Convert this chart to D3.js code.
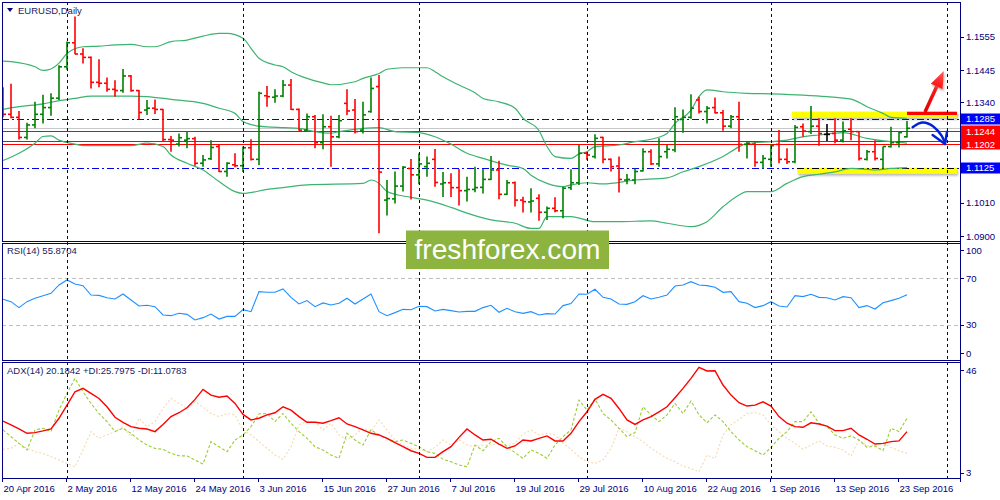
<!DOCTYPE html>
<html><head><meta charset="utf-8">
<script src="https://cdn.jsdelivr.net/npm/d3@7"></script>
<style>body{margin:0;background:#fff}svg{display:block}text{font-family:"Liberation Sans",Arial,sans-serif}</style>
</head><body><svg id="c" width="1000" height="500"></svg>
<script>
// ---------- DATA ----------
const dateLabels = ["20 Apr 2016","2 May 2016","12 May 2016","24 May 2016","3 Jun 2016","15 Jun 2016","27 Jun 2016","7 Jul 2016","19 Jul 2016","29 Jul 2016","10 Aug 2016","22 Aug 2016","1 Sep 2016","13 Sep 2016","23 Sep 2016"];
const dateLabelBars = [0,8,16,24,32,40,48,56,64,72,80,88,96,104,112];
const monthStartBars = [8,30,52,73,96,118];
const priceTicks = [1.1555,1.1445,1.1340,1.1010,1.0900];
const rsiTicks = [100,70,30,0];
const rsiLevels = [70,30];
const adxTicks = [46,3];

const opens  = [1.1303,1.1300,1.1290,1.1224,1.1265,1.1300,1.1322,1.1353,1.1456,1.1535,1.1498,1.1487,1.1405,1.1402,1.1382,1.1378,1.1426,1.1378,1.1314,1.1320,1.1316,1.1217,1.1202,1.1215,1.1220,1.1139,1.1154,1.1194,1.1112,1.1134,1.1131,1.1190,1.1152,1.1361,1.1356,1.1360,1.1396,1.1316,1.1248,1.1292,1.1207,1.1259,1.1226,1.1336,1.1314,1.1248,1.1309,1.1391,1.1018,1.1022,1.1064,1.1122,1.1101,1.1128,1.1152,1.1071,1.1075,1.1059,1.1049,1.1053,1.1060,1.1086,1.1117,1.1037,1.1075,1.1018,1.1012,1.1024,1.0978,1.0991,1.0983,1.1059,1.1075,1.1172,1.1161,1.1224,1.1152,1.1130,1.1084,1.1084,1.1114,1.1177,1.1137,1.1177,1.1183,1.1283,1.1290,1.1347,1.1309,1.1322,1.1305,1.1261,1.1292,1.1201,1.1202,1.1142,1.1152,1.1201,1.1152,1.1144,1.1259,1.1243,1.1261,1.1234,1.1237,1.1215,1.1251,1.1243,1.1152,1.1177,1.1152,1.1194,1.1207,1.1226];
const highs  = [1.1389,1.1400,1.1311,1.1272,1.1341,1.1364,1.1369,1.1461,1.1539,1.1621,1.1517,1.1490,1.1481,1.1421,1.1412,1.1449,1.1429,1.1380,1.1347,1.1349,1.1317,1.1229,1.1237,1.1243,1.1226,1.1166,1.1215,1.1199,1.1142,1.1172,1.1194,1.1218,1.1374,1.1393,1.1382,1.1413,1.1416,1.1319,1.1303,1.1298,1.1300,1.1295,1.1298,1.1382,1.1350,1.1341,1.1421,1.1429,1.1084,1.1112,1.1130,1.1153,1.1172,1.1161,1.1186,1.1110,1.1106,1.1120,1.1095,1.1128,1.1120,1.1163,1.1147,1.1084,1.1079,1.1029,1.1057,1.1037,1.0997,1.1027,1.1062,1.1119,1.1199,1.1177,1.1234,1.1226,1.1155,1.1161,1.1104,1.1122,1.1188,1.1185,1.1221,1.1199,1.1323,1.1316,1.1366,1.1358,1.1327,1.1355,1.1314,1.1298,1.1341,1.1210,1.1207,1.1166,1.1201,1.1248,1.1188,1.1265,1.1270,1.1327,1.1287,1.1268,1.1287,1.1276,1.1287,1.1245,1.1183,1.1215,1.1194,1.1259,1.1243,1.1278];
const lows   = [1.1290,1.1287,1.1217,1.1217,1.1254,1.1270,1.1295,1.1347,1.1446,1.1497,1.1467,1.1385,1.1389,1.1374,1.1358,1.1371,1.1374,1.1283,1.1298,1.1301,1.1210,1.1177,1.1194,1.1188,1.1131,1.1128,1.1150,1.1110,1.1095,1.1126,1.1110,1.1148,1.1133,1.1325,1.1338,1.1356,1.1314,1.1246,1.1246,1.1188,1.1185,1.1128,1.1221,1.1298,1.1237,1.1237,1.1305,1.0909,1.0967,1.1007,1.1046,1.1020,1.1070,1.1095,1.1062,1.1028,1.1028,1.1000,1.1013,1.1044,1.1040,1.1084,1.1021,1.1035,1.0997,1.0977,1.0977,1.0950,1.0953,1.0978,1.0958,1.1051,1.1068,1.1150,1.1155,1.1139,1.1112,1.1043,1.1070,1.1070,1.1112,1.1133,1.1128,1.1155,1.1175,1.1239,1.1285,1.1303,1.1270,1.1303,1.1246,1.1254,1.1177,1.1155,1.1128,1.1122,1.1128,1.1139,1.1137,1.1139,1.1226,1.1235,1.1197,1.1212,1.1205,1.1207,1.1215,1.1148,1.1148,1.1148,1.1122,1.1191,1.1191,1.1224];
const closes = [1.1300,1.1290,1.1224,1.1265,1.1300,1.1322,1.1353,1.1456,1.1535,1.1498,1.1487,1.1405,1.1402,1.1382,1.1378,1.1426,1.1378,1.1306,1.1320,1.1316,1.1217,1.1215,1.1223,1.1220,1.1139,1.1150,1.1191,1.1112,1.1139,1.1131,1.1190,1.1152,1.1369,1.1358,1.1360,1.1396,1.1316,1.1248,1.1292,1.1207,1.1259,1.1226,1.1279,1.1311,1.1243,1.1298,1.1385,1.1110,1.1023,1.1064,1.1126,1.1101,1.1137,1.1139,1.1076,1.1075,1.1059,1.1049,1.1053,1.1059,1.1086,1.1117,1.1037,1.1075,1.1018,1.1013,1.1015,1.0978,1.0991,1.0983,1.1057,1.1075,1.1172,1.1166,1.1221,1.1152,1.1128,1.1086,1.1086,1.1112,1.1177,1.1137,1.1161,1.1185,1.1292,1.1290,1.1320,1.1309,1.1320,1.1305,1.1261,1.1292,1.1201,1.1205,1.1142,1.1155,1.1197,1.1152,1.1144,1.1257,1.1245,1.1261,1.1237,1.1234,1.1215,1.1246,1.1243,1.1155,1.1177,1.1155,1.1194,1.1207,1.1240,1.1254];

// Bollinger bands: [bar, price]
const bbUpper = [[0,1.1475],[1,1.1473],[4,1.1456],[5,1.1444],[6,1.1449],[7,1.1468],[8,1.1500],[10,1.1522],[12,1.1524],[14,1.1528],[16,1.1530],[18,1.1522],[19,1.1522],[21,1.1539],[23,1.1544],[25,1.1557],[27,1.1566],[28,1.1566],[30,1.1550],[31,1.1517],[32,1.1484],[34,1.1462],[35,1.1456],[36,1.1440],[38,1.1418],[40,1.1403],[41,1.1397],[44,1.1407],[45,1.1418],[47,1.1434],[48,1.1448],[50,1.1453],[53,1.1453],[54,1.1440],[55,1.1423],[57,1.1396],[59,1.1371],[60,1.1352],[62,1.1341],[64,1.1320],[65,1.1287],[67,1.1246],[68,1.1194],[69,1.1161],[71,1.1155],[72,1.1170],[73,1.1177],[74,1.1194],[77,1.1199],[79,1.1210],[81,1.1218],[83,1.1237],[84,1.1270],[86,1.1314],[87,1.1358],[88,1.1380],[90,1.1374],[93,1.1369],[96,1.1367],[100,1.1363],[103,1.1358],[106,1.1350],[108,1.1325],[110,1.1303],[111,1.1290],[113,1.1287]];
const bbMiddle = [[0,1.1316],[2,1.1325],[5,1.1334],[7,1.1345],[9,1.1352],[11,1.1360],[16,1.1360],[18,1.1358],[21,1.1349],[25,1.1336],[27,1.1320],[29,1.1303],[30,1.1276],[32,1.1261],[35,1.1256],[37,1.1254],[39,1.1243],[41,1.1238],[42,1.1243],[45,1.1254],[47,1.1256],[49,1.1243],[52,1.1240],[54,1.1226],[56,1.1202],[58,1.1172],[60,1.1155],[63,1.1133],[65,1.1122],[66,1.1100],[68,1.1073],[70,1.1062],[71,1.1068],[73,1.1075],[75,1.1071],[79,1.1084],[83,1.1091],[85,1.1111],[87,1.1128],[90,1.1161],[92,1.1193],[93,1.1204],[96,1.1210],[98,1.1215],[100,1.1226],[102,1.1232],[105,1.1240],[108,1.1221],[111,1.1210],[113,1.1205]];
const bbLower = [[0,1.1148],[2,1.1172],[4,1.1205],[5,1.1227],[6,1.1229],[7,1.1215],[9,1.1202],[10,1.1197],[16,1.1197],[18,1.1205],[20,1.1194],[21,1.1166],[23,1.1139],[25,1.1117],[27,1.1079],[29,1.1046],[30,1.1040],[33,1.1053],[35,1.1059],[38,1.1068],[45,1.1073],[46,1.1084],[47,1.1073],[48,1.1046],[51,1.1027],[53,1.1018],[56,1.0994],[58,1.0975],[61,1.0953],[64,1.0942],[66,1.0925],[67,1.0925],[68,1.0964],[71,1.0964],[74,1.0947],[77,1.0947],[81,1.0950],[83,1.0942],[86,1.0931],[88,1.0947],[90,1.0996],[92,1.1035],[93,1.1046],[96,1.1046],[98,1.1073],[100,1.1095],[102,1.1103],[104,1.1111],[106,1.1122],[109,1.1117],[111,1.1122],[113,1.1125]];

const rsiValues = [52.0,50.0,44.9,50.0,52.9,55.1,57.1,64.3,68.6,65.1,63.7,55.7,55.4,53.4,52.3,56.6,51.4,46.3,46.9,45.7,38.6,38.0,40.0,39.1,34.3,36.3,39.4,35.1,37.4,37.4,43.1,41.4,58.6,58.0,58.0,60.9,53.7,48.0,50.9,45.7,48.9,47.1,48.6,52.9,48.0,52.3,56.6,41.4,38.0,40.6,43.4,43.1,46.0,45.7,42.0,43.4,42.3,41.1,41.7,41.7,44.9,46.9,40.9,44.3,41.4,40.0,41.4,38.6,39.7,39.4,46.6,48.3,56.6,56.3,60.6,53.7,52.3,48.0,47.7,50.0,55.1,52.3,53.7,55.7,63.4,64.3,67.1,64.3,63.7,62.3,58.0,58.6,50.0,48.6,44.9,46.6,50.0,46.3,45.4,55.1,54.3,56.3,53.7,53.4,51.4,54.3,53.4,44.9,46.6,43.7,49.1,50.9,52.9,55.9];
const adxValues = [24.6,23.0,21.3,19.5,19.8,20.5,21.3,25.8,31.3,36.9,38.3,36.2,34.1,30.6,26.2,24.1,22.3,21.6,21.3,20.2,23.2,26.5,28.1,30.2,33.7,37.9,35.5,34.6,35.1,32.0,27.4,25.1,25.8,27.2,28.1,30.6,29.2,26.5,24.1,24.1,23.7,24.8,26.0,23.4,22.3,20.9,19.5,18.8,17.4,15.6,13.9,12.2,11.1,9.4,9.4,11.8,13.9,17.8,21.3,18.8,16.7,17.0,15.0,13.2,14.2,16.7,16.3,17.4,18.4,16.3,16.3,19.5,24.4,28.5,33.7,35.8,34.1,29.9,25.1,23.2,25.1,26.5,28.5,30.6,34.4,38.3,42.5,47.1,45.6,45.7,39.7,35.5,32.3,30.9,31.3,32.7,30.9,26.5,23.7,22.3,22.0,23.9,23.4,22.5,20.6,20.6,21.6,18.8,17.0,15.0,15.3,16.0,16.3,20.2];
const plusDI = [20.9,18.1,15.3,12.5,20.9,21.6,20.2,29.2,36.2,42.5,36.9,32.0,27.8,24.4,20.2,21.6,19.5,16.7,14.6,13.2,12.8,11.1,10.1,10.0,8.3,6.6,16.0,13.9,11.8,16.7,18.8,22.3,27.6,27.8,24.4,27.8,23.7,20.2,17.4,13.9,12.5,10.4,9.0,19.5,16.7,14.6,20.9,18.8,17.4,16.0,16.7,15.3,13.9,11.8,11.1,8.6,7.6,6.2,5.5,14.6,12.2,16.0,17.4,13.9,11.4,9.0,12.5,11.1,9.0,14.6,18.1,20.9,33.4,29.2,33.9,27.8,25.1,21.6,18.1,19.8,30.6,27.2,24.4,27.2,32.0,27.8,33.0,27.2,23.9,27.2,24.4,20.2,16.7,13.9,12.2,10.4,13.6,17.4,20.2,24.4,24.4,28.5,23.7,22.3,18.8,17.4,18.4,16.7,13.6,14.2,12.2,21.6,20.2,25.8];
const minusDI = [12.8,13.2,15.3,13.2,11.8,11.1,9.7,8.3,6.9,5.5,12.5,20.2,17.4,18.8,20.2,22.3,18.1,25.8,22.3,24.4,29.9,34.1,32.0,29.9,32.7,30.6,27.8,26.5,27.8,27.2,20.9,18.8,16.0,13.2,10.4,8.6,13.9,23.0,24.4,24.4,20.9,23.7,18.8,16.7,18.8,21.6,20.2,25.1,20.9,16.7,14.6,13.2,12.8,11.8,13.6,16.7,14.6,16.7,14.6,13.9,14.6,14.6,15.3,14.2,15.3,19.2,20.9,18.8,19.5,18.8,15.3,12.8,9.7,7.6,6.9,8.3,13.2,21.6,20.2,18.1,16.0,13.2,11.1,9.0,7.6,5.8,4.8,3.4,10.4,9.0,18.8,23.0,25.3,27.8,28.1,27.2,23.0,20.2,17.4,15.3,12.8,14.6,16.3,14.2,13.6,12.5,10.0,16.7,14.2,14.6,15.3,13.6,12.2,11.1];

const redLevels = [1.1244,1.1213,1.1202];
const blueLevels = [1.1285,1.1125];
const hiddenRedLevel = 1.1213;       // its label sits under the other two
const shownRedLabels = [1.1244,1.1202];
// analyst drawings in [bar, price]
const zoneUpper = [98.6,119.25,1.1289,1.1309];
const zoneLower = [99.3,119.25,1.1105,1.1124];
const blackSeg = [99.3,119.25,1.1125];
const redSeg = [113,119.25,1.1303];
const redArrow = [[115.25,1.13075],[117.6,1.14422]];
const blueCurve = [[113.7,1.12572],[114.8,1.12789],[116.3,1.12648],[117.5,1.12263],[117.75,1.12023]];
const blueHead = [[116.2,1.12319],[117.75,1.12023],[118.0,1.12427]];

// ---------- LAYOUT ----------
const L=2, R=960;
const P = {main:[2,241], rsi:[243,360], adx:[362,478]};
const NAVY="#000080";
const svg=d3.select("#c");
const x=d3.scaleLinear().domain([0,118]).range([3,947]);
const y=d3.scaleLinear().domain([1.08836,1.16690]).range([241,2]);
const yR=d3.scaleLinear().domain([0,100]).range([360,243.3]);
const yA=d3.scaleLinear().domain([3,46]).range([472.7,370]);
const px5=v=>Math.round(v)+0.5;
const defs=svg.append("defs");
Object.entries(P).forEach(([k,[t,b]])=>{
  defs.append("clipPath").attr("id","clip-"+k).append("rect").attr("x",L).attr("y",t).attr("width",R-L).attr("height",b-t);
});
const f=defs.append("filter").attr("id","sh").attr("x","-10%").attr("y","-50%").attr("width","130%").attr("height","250%");
f.append("feDropShadow").attr("dx",1).attr("dy",2).attr("stdDeviation",1.2).attr("flood-color","#888").attr("flood-opacity",0.6);

const gMain=svg.append("g").attr("clip-path","url(#clip-main)");
const gRsi=svg.append("g").attr("clip-path","url(#clip-rsi)");
const gAdx=svg.append("g").attr("clip-path","url(#clip-adx)");

// yellow zones (background)
[zoneUpper,zoneLower].forEach(z=>{
  gMain.append("rect").attr("x",x(z[0])).attr("width",x(z[1])-x(z[0]))
    .attr("y",y(z[3])).attr("height",y(z[2])-y(z[3])).attr("fill","#ffff00").attr("filter","url(#sh)");
});
// bid line
const last=closes[closes.length-1];
gMain.append("line").attr("x1",L).attr("x2",R).attr("y1",px5(y(last))).attr("y2",px5(y(last)))
  .attr("stroke","#c8c8c8").attr("stroke-width",1).attr("shape-rendering","crispEdges");
// red levels
gMain.selectAll(".rl").data(redLevels).join("line").attr("x1",L).attr("x2",R)
  .attr("y1",d=>px5(y(d))).attr("y2",d=>px5(y(d))).attr("stroke","#ff0000").attr("stroke-width",1).attr("shape-rendering","crispEdges");
// blue dash-dot levels
gMain.selectAll(".bl").data(blueLevels).join("line").attr("x1",L).attr("x2",R)
  .attr("y1",d=>px5(y(d))).attr("y2",d=>px5(y(d))).attr("stroke","#0000ee").attr("stroke-width",1).attr("stroke-dasharray","7,3,2,3").attr("shape-rendering","crispEdges");
// black dash segment
gMain.append("line").attr("x1",x(blackSeg[0])).attr("x2",x(blackSeg[1])).attr("y1",px5(y(blackSeg[2]))).attr("y2",px5(y(blackSeg[2])))
  .attr("stroke","#000").attr("stroke-width",1).attr("stroke-dasharray","7,3,2,3").attr("shape-rendering","crispEdges");

// month separators (all panels)
svg.selectAll(".vg").data(monthStartBars).join("line").attr("x1",d=>px5(x(d))).attr("x2",d=>px5(x(d)))
  .attr("y1",2).attr("y2",478).attr("stroke",NAVY).attr("stroke-width",1).attr("stroke-dasharray","3,3").attr("shape-rendering","crispEdges");

// bollinger
const bbLine=d3.line().x(d=>x(d[0])).y(d=>y(d[1])).curve(d3.curveMonotoneX);
[bbUpper,bbMiddle,bbLower].forEach(s=>{
  gMain.append("path").attr("d",bbLine(s)).attr("fill","none").attr("stroke","#3cb371").attr("stroke-width",1.2);
});

// OHLC bars
const bars=d3.range(opens.length).map(i=>({i,o:opens[i],h:highs[i],l:lows[i],c:closes[i]}));
const col=d=>d.c>d.o?"#008000":(d.c<d.o?"#ff0000":"#000000");
const bg=gMain.selectAll(".bar").data(bars).join("g").attr("stroke",col).attr("stroke-width",1.6);
bg.append("line").attr("x1",d=>x(d.i)).attr("x2",d=>x(d.i)).attr("y1",d=>y(d.h)).attr("y2",d=>y(d.l));
bg.append("line").attr("x1",d=>x(d.i)-3).attr("x2",d=>x(d.i)).attr("y1",d=>y(d.o)).attr("y2",d=>y(d.o));
bg.append("line").attr("x1",d=>x(d.i)).attr("x2",d=>x(d.i)+3).attr("y1",d=>y(d.c)).attr("y2",d=>y(d.c));

// red thick segment
gMain.append("line").attr("x1",x(redSeg[0])).attr("x2",x(redSeg[1])).attr("y1",y(redSeg[2])).attr("y2",y(redSeg[2]))
  .attr("stroke","#ff0000").attr("stroke-width",3.4);

// red arrow
{
  const p0=[x(redArrow[0][0]),y(redArrow[0][1])], p1=[x(redArrow[1][0]),y(redArrow[1][1])];
  const dx=p1[0]-p0[0], dy=p1[1]-p0[1], len=Math.hypot(dx,dy), ux=dx/len, uy=dy/len, qx=-uy, qy=ux;
  const hl=17, hw=6.5;
  const b=[p1[0]-ux*hl,p1[1]-uy*hl];
  const grad=defs.append("linearGradient").attr("id","rg").attr("gradientUnits","userSpaceOnUse")
    .attr("x1",p0[0]).attr("y1",p0[1]).attr("x2",p1[0]).attr("y2",p1[1]);
  grad.append("stop").attr("offset","0").attr("stop-color","#e00000");
  grad.append("stop").attr("offset","0.7").attr("stop-color","#ff2020");
  grad.append("stop").attr("offset","1").attr("stop-color","#ff6060");
  gMain.append("line").attr("x1",p0[0]).attr("y1",p0[1]).attr("x2",b[0]+ux*2).attr("y2",b[1]+uy*2)
    .attr("stroke","url(#rg)").attr("stroke-width",3.5);
  gMain.append("path").attr("d",`M${p1[0]},${p1[1]}L${b[0]+qx*hw},${b[1]+qy*hw}L${b[0]-qx*hw},${b[1]-qy*hw}Z`)
    .attr("fill","url(#rg)").attr("filter","url(#sh)");
}
// blue curved arrow
gMain.append("path").attr("d",d3.line().x(d=>x(d[0])).y(d=>y(d[1])).curve(d3.curveBasis)(blueCurve))
  .attr("fill","none").attr("stroke","#0022dd").attr("stroke-width",2.4).attr("stroke-linecap","round");
gMain.append("path").attr("d",d3.line().x(d=>x(d[0])).y(d=>y(d[1]))(blueHead))
  .attr("fill","none").attr("stroke","#0022dd").attr("stroke-width",2.4).attr("stroke-linecap","round").attr("stroke-linejoin","round");

// RSI
gRsi.selectAll(".lv").data(rsiLevels).join("line").attr("x1",L).attr("x2",R).attr("y1",d=>px5(yR(d))).attr("y2",d=>px5(yR(d)))
  .attr("stroke","#c0c0c0").attr("stroke-dasharray","4,3").attr("shape-rendering","crispEdges");
gRsi.append("path").attr("d",d3.line().x((d,i)=>x(i)).y(d=>yR(d))(rsiValues)).attr("fill","none").attr("stroke","#1e90ff").attr("stroke-width",1.1);

// ADX
gAdx.append("path").attr("d",d3.line().x((d,i)=>x(i)).y(d=>yA(d))(minusDI)).attr("fill","none").attr("stroke","#f5d9ae").attr("stroke-width",1.1).attr("stroke-dasharray","2,2");
gAdx.append("path").attr("d",d3.line().x((d,i)=>x(i)).y(d=>yA(d))(plusDI)).attr("fill","none").attr("stroke","#9acd32").attr("stroke-width",1.1).attr("stroke-dasharray","3,2");
gAdx.append("path").attr("d",d3.line().x((d,i)=>x(i)).y(d=>yA(d))(adxValues)).attr("fill","none").attr("stroke","#ff0000").attr("stroke-width",1.4);

// panel borders
Object.values(P).forEach(([t,b])=>{
  svg.append("rect").attr("x",L+0.5).attr("y",t+0.5).attr("width",R-L).attr("height",b-t).attr("fill","none")
    .attr("stroke",NAVY).attr("stroke-width",1).attr("shape-rendering","crispEdges");
});

// right axis
const fs="9.5px";
svg.append("line").attr("x1",R+0.5).attr("x2",R+0.5).attr("y1",2).attr("y2",482).attr("stroke",NAVY).attr("stroke-width",1).attr("shape-rendering","crispEdges");
priceTicks.forEach(v=>{
  svg.append("line").attr("x1",R).attr("x2",R+4).attr("y1",px5(y(v))).attr("y2",px5(y(v))).attr("stroke",NAVY).attr("shape-rendering","crispEdges");
  svg.append("text").attr("x",966).attr("y",y(v)+3.5).attr("fill",NAVY).attr("font-size",fs).text(v.toFixed(4));
});
rsiTicks.forEach(v=>{
  const yy=Math.min(353,Math.max(250,yR(v)));
  svg.append("line").attr("x1",R).attr("x2",R+4).attr("y1",px5(yy)).attr("y2",px5(yy)).attr("stroke",NAVY).attr("shape-rendering","crispEdges");
  svg.append("text").attr("x",966).attr("y",yy+3.5).attr("fill",NAVY).attr("font-size",fs).text(v);
});
adxTicks.forEach(v=>{
  svg.append("line").attr("x1",R).attr("x2",R+4).attr("y1",px5(yA(v))).attr("y2",px5(yA(v))).attr("stroke",NAVY).attr("shape-rendering","crispEdges");
  svg.append("text").attr("x",966).attr("y",yA(v)+3.5).attr("fill",NAVY).attr("font-size",fs).text(v);
});
// highlighted price labels
function box(v,fill){
  svg.append("rect").attr("x",961).attr("y",Math.round(y(v))-5.5).attr("width",39).attr("height",11).attr("fill",fill);
}
function tag(v,fill){
  box(v,fill);
  svg.append("text").attr("x",966).attr("y",y(v)+3.5).attr("fill","#fff").attr("font-size",fs).text(v.toFixed(4));
}
tag(blueLevels[0],"#0000ff");
tag(blueLevels[1],"#0000ff");
box(hiddenRedLevel,"#ff0000");
shownRedLabels.forEach(v=>tag(v,"#ff0000"));

// x axis
dateLabels.forEach((t,k)=>{
  const xx=px5(x(dateLabelBars[k])-1);
  svg.append("line").attr("x1",xx).attr("x2",xx).attr("y1",478).attr("y2",482).attr("stroke",NAVY).attr("shape-rendering","crispEdges");
  svg.append("text").attr("x",xx+1).attr("y",491.5).attr("fill",NAVY).attr("font-size",fs).text(t);
});

// titles
svg.append("path").attr("d","M7,8L13,8L10,12Z").attr("fill",NAVY);
svg.append("text").attr("x",18).attr("y",14).attr("fill","#1a1a60").attr("font-size",fs).text("EURUSD,Daily");
svg.append("text").attr("x",7).attr("y",254).attr("fill","#1a1a60").attr("font-size",fs).text("RSI(14) 55.8704");
svg.append("text").attr("x",7).attr("y",374).attr("fill","#1a1a60").attr("font-size",fs).text("ADX(14) 20.1842 +DI:25.7975 -DI:11.0783");

// watermark
svg.append("rect").attr("x",406).attr("y",230.5).attr("width",203).attr("height",38.5).attr("fill","#8db43e");
svg.append("text").attr("x",507.5).attr("y",259).attr("text-anchor","middle").attr("fill","#fff")
  .attr("font-family","'Open Sans',sans-serif").attr("font-size","28px").attr("textLength",186).attr("lengthAdjust","spacingAndGlyphs").text("freshforex.com");
</script></body></html>
